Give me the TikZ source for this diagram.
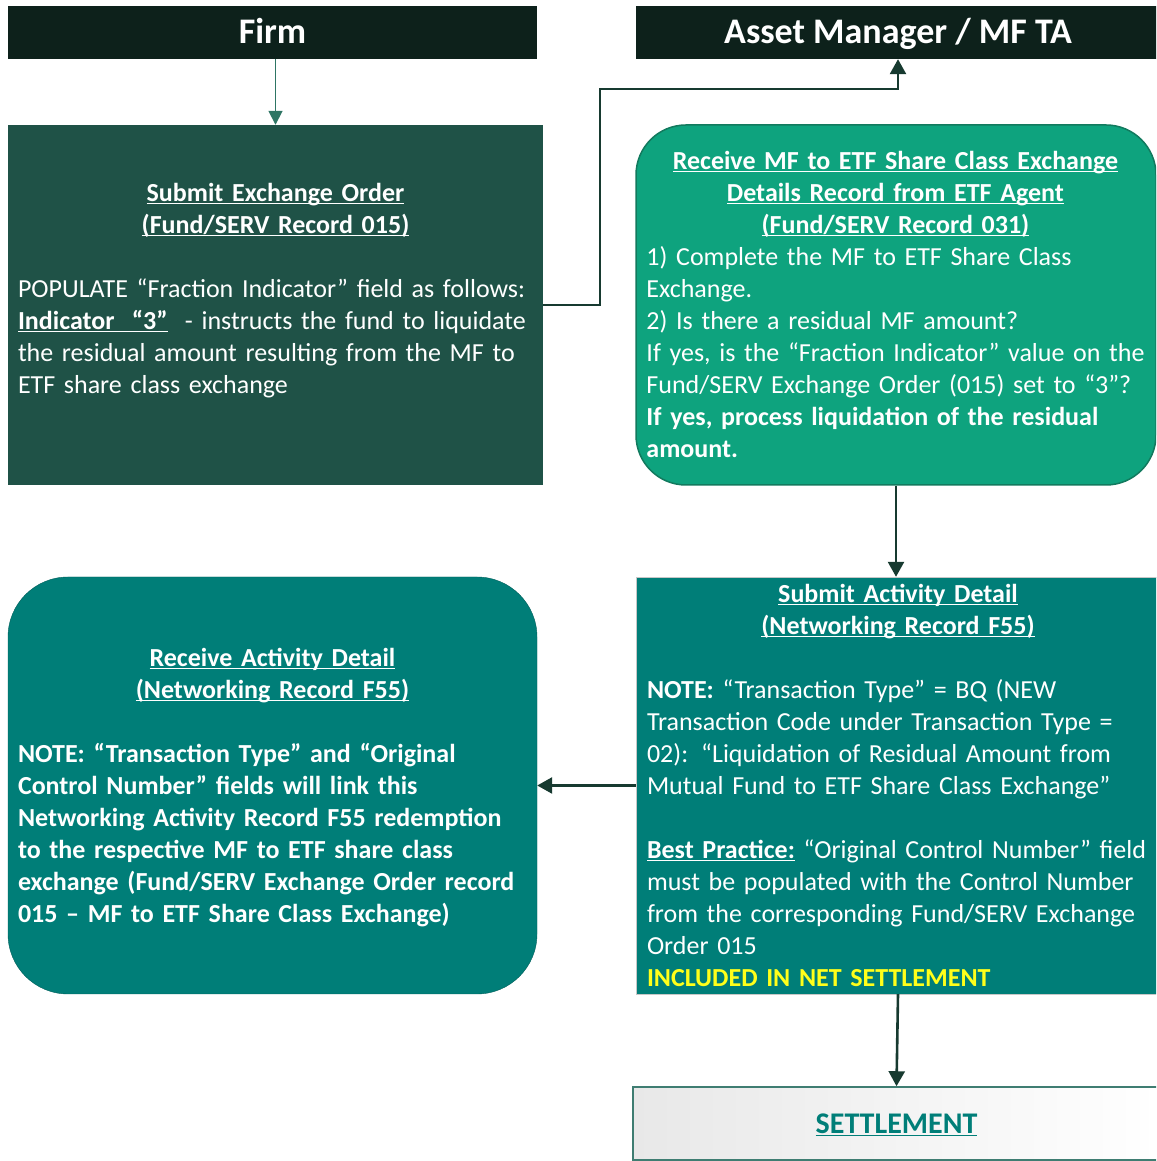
\documentclass[tikz,border=0pt]{standalone}
\usepackage{fontspec}
\setmainfont{Carlito}
\usepackage{xcolor}
\usetikzlibrary{arrows.meta,positioning}

\definecolor{hdrgreen}{HTML}{0D211B}
\definecolor{ordergreen}{HTML}{1F5247}
\definecolor{mfgreen}{HTML}{0EA37E}
\definecolor{mfedge}{HTML}{127A5E}
\definecolor{netteal}{HTML}{007E78}
\definecolor{linkdark}{HTML}{173A30}
\definecolor{linkteal}{HTML}{2E7564}
\definecolor{netyellow}{HTML}{FFFF1A}
\definecolor{settleedge}{HTML}{3F7D72}

\newlength{\ttlw}
\newcommand{\uln}[1]{\underline{\smash{#1}}}
\newcommand{\ttl}[1]{\makebox[\ttlw]{\uln{\textbf{#1}}}}

\begin{document}
\begin{tikzpicture}[
    x=1pt, y=1pt,
    font=\fontsize{26}{32}\selectfont,
    header/.style={rectangle, fill=hdrgreen, text=white, inner sep=0pt,
        font=\fontsize{36}{40}\selectfont\bfseries, minimum height=53pt,
        text height=23pt, text depth=0pt},
    panel/.style={rectangle, inner sep=0pt},
    txt/.style={text=white, text width=560pt, align=left, inner sep=0pt, yshift=-2.5pt,
        execute at begin node={\setlength{\ttlw}{#1}}},
    link/.style={-{Triangle[length=15pt,width=16pt]}, line width=2.6pt, linkdark}
]
\clip (0,0) rectangle (1156,1161);

% column headers
\node[header, minimum width=529pt] (firm) at (272.5,1128.5) {Firm};
\node[header, minimum width=524pt] (amgr) at (898,1128.5) {Asset Manager / MF TA};

% boxes
\node[panel, fill=ordergreen, minimum width=535pt, minimum height=360pt] (order) at (275.5,856) {};
\node[panel, fill=mfgreen, draw=mfedge, line width=1.5pt, rounded corners=50pt,
      minimum width=520pt, minimum height=360pt] (mfrec) at (896,856) {};
\node[panel, fill=netteal, draw=black!22, minimum width=524pt, minimum height=417pt] (actsub) at (898,375.5) {};
\node[panel, fill=netteal, draw=netteal!75!black, rounded corners=60pt,
      minimum width=529pt, minimum height=417pt] (actrcv) at (272.5,375.5) {};
\node[panel, draw=settleedge, line width=1.5pt, left color=black!9, right color=white,
      minimum width=527pt, minimum height=73pt, text=netteal, text height=20pt, text depth=0pt,
      font=\fontsize{30}{36}\selectfont\bfseries] (settle) at (896.5,37.5) {\uln{SETTLEMENT}};

% box texts
\node[txt=515pt, right=10pt of order.west] (ordertxt) {\strut\ttl{Submit Exchange Order}\\
    \ttl{(Fund/SERV Record 015)}\\[32pt]
    POPULATE “Fraction Indicator” field as follows:\\
    \uln{\textbf{Indicator\ \ “3”}}\ \ - instructs the fund to liquidate\\
    the residual amount resulting from the MF to\\
    ETF share class exchange\\
    \strut};
\node[txt=498pt, right=11pt of mfrec.west] (mfrectxt) {\strut\ttl{Receive MF to ETF Share Class Exchange}\\
    \ttl{Details Record from ETF Agent}\\
    \ttl{(Fund/SERV Record 031)}\\
    1) Complete the MF to ETF Share Class\\
    Exchange.\\
    2) Is there a residual MF amount?\\
    If yes, is the “Fraction Indicator” value on the\\
    Fund/SERV Exchange Order (015) set to “3”?\\
    \textbf{If yes, process liquidation of the residual}\\
    \textbf{amount.}\strut};
\node[txt=502pt, right=11pt of actsub.west] (actsubtxt) {\strut\ttl{Submit Activity Detail}\\
    \ttl{(Networking Record F55)}\\[32pt]
    \textbf{NOTE:} “Transaction Type” = BQ (NEW\\
    Transaction Code under Transaction Type =\\
    02): “Liquidation of Residual Amount from\\
    Mutual Fund to ETF Share Class Exchange”\\[32pt]
    \uln{\textbf{Best Practice:}} “Original Control Number” field\\
    must be populated with the Control Number\\
    from the corresponding Fund/SERV Exchange\\
    Order 015\\
    \textcolor{netyellow}{\textbf{INCLUDED IN NET SETTLEMENT}}\strut};
\node[txt=509pt, right=10pt of actrcv.west, font=\fontsize{26}{32}\selectfont\bfseries] (actrcvtxt)
    {\strut\ttl{Receive Activity Detail}\\
    \ttl{(Networking Record F55)}\\[32pt]
    NOTE: “Transaction Type” and “Original\\
    Control Number” fields will link this\\
    Networking Activity Record F55 redemption\\
    to the respective MF to ETF share class\\
    exchange (Fund/SERV Exchange Order record\\
    015 – MF to ETF Share Class Exchange)\strut};

% connectors
\coordinate (bend) at (600,1072);
\draw[-{Triangle[length=14pt,width=14pt]}, line width=1.8pt, linkteal] (firm.south -| order.north) -- (order.north);
\draw[link] (order.east) -| (bend) -| (amgr.south);
\draw[link] (mfrec.south) -- (mfrec.south |- actsub.north);
\draw[link] (actsub.west) -- (actrcv.east);
\draw[link] (actsub.south) -- (settle.north);
\end{tikzpicture}
\end{document}
